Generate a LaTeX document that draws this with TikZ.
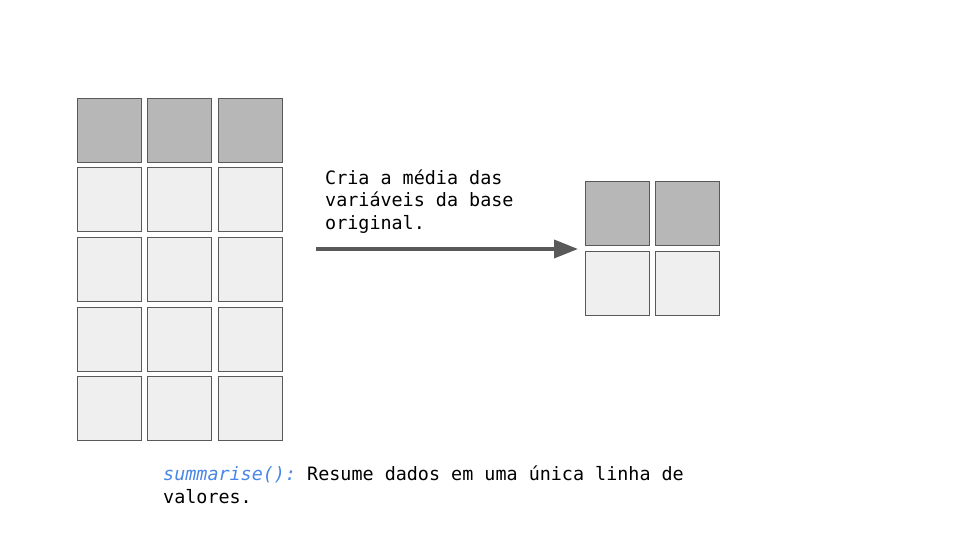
\documentclass[tikz,border=0pt]{standalone}
\usepackage{fontspec}
\setmonofont{DejaVu Sans Mono}
\usetikzlibrary{arrows.meta}
\definecolor{gray300}{HTML}{B7B7B7}
\definecolor{gray100}{HTML}{EFEFEF}
\definecolor{gray700}{HTML}{595959}
\definecolor{blue500}{HTML}{4A86E8}
\tikzstyle{celula}=[rectangle, draw=gray700, line width=1pt, minimum size=64pt, inner sep=0pt]
\tikzstyle{chave}=[celula, fill=gray300]
\tikzstyle{valor}=[celula, fill=gray100]
\tikzstyle{texto}=[anchor=base west, align=left, inner sep=0pt, font=\ttfamily\fontsize{18.4}{22.5}\selectfont]

\begin{document}
\begin{tikzpicture}[x=1pt, y=-1pt]
				\useasboundingbox[fill=white] (0,0) rectangle (960,540);
				% base original
				\node[chave] (a11) at (109,130.5) {};
				\node[chave] (a12) at (179.5,130.5) {};
				\node[chave] (a13) at (250,130.5) {};
				\node[valor] (a21) at (109,199.5) {};
				\node[valor] (a22) at (179.5,199.5) {};
				\node[valor] (a23) at (250,199.5) {};
				\node[valor] (a31) at (109,269.5) {};
				\node[valor] (a32) at (179.5,269.5) {};
				\node[valor] (a33) at (250,269.5) {};
				\node[valor] (a41) at (109,339.5) {};
				\node[valor] (a42) at (179.5,339.5) {};
				\node[valor] (a43) at (250,339.5) {};
				\node[valor] (a51) at (109,408.5) {};
				\node[valor] (a52) at (179.5,408.5) {};
				\node[valor] (a53) at (250,408.5) {};
				% base resumida
				\node[chave] (b11) at (617,213.5) {};
				\node[chave] (b12) at (687,213.5) {};
				\node[valor] (b21) at (617,283.5) {};
				\node[valor] (b22) at (687,283.5) {};
				% seta
				\coordinate (inicio) at (316,249);
				\coordinate (fim) at (578,249);
				\draw[gray700, line width=3.5pt, -{Triangle[length=24pt, width=18pt]}] (inicio)--(fim);
				\node[texto] (descricao) at (325,229) {Cria a média das\\variáveis da base\\original.};
				\node[texto] (legenda) at (163,503) {\textcolor{blue500}{\itshape summarise():} Resume dados em uma única linha de\\valores.};
			\end{tikzpicture}
\end{document}
